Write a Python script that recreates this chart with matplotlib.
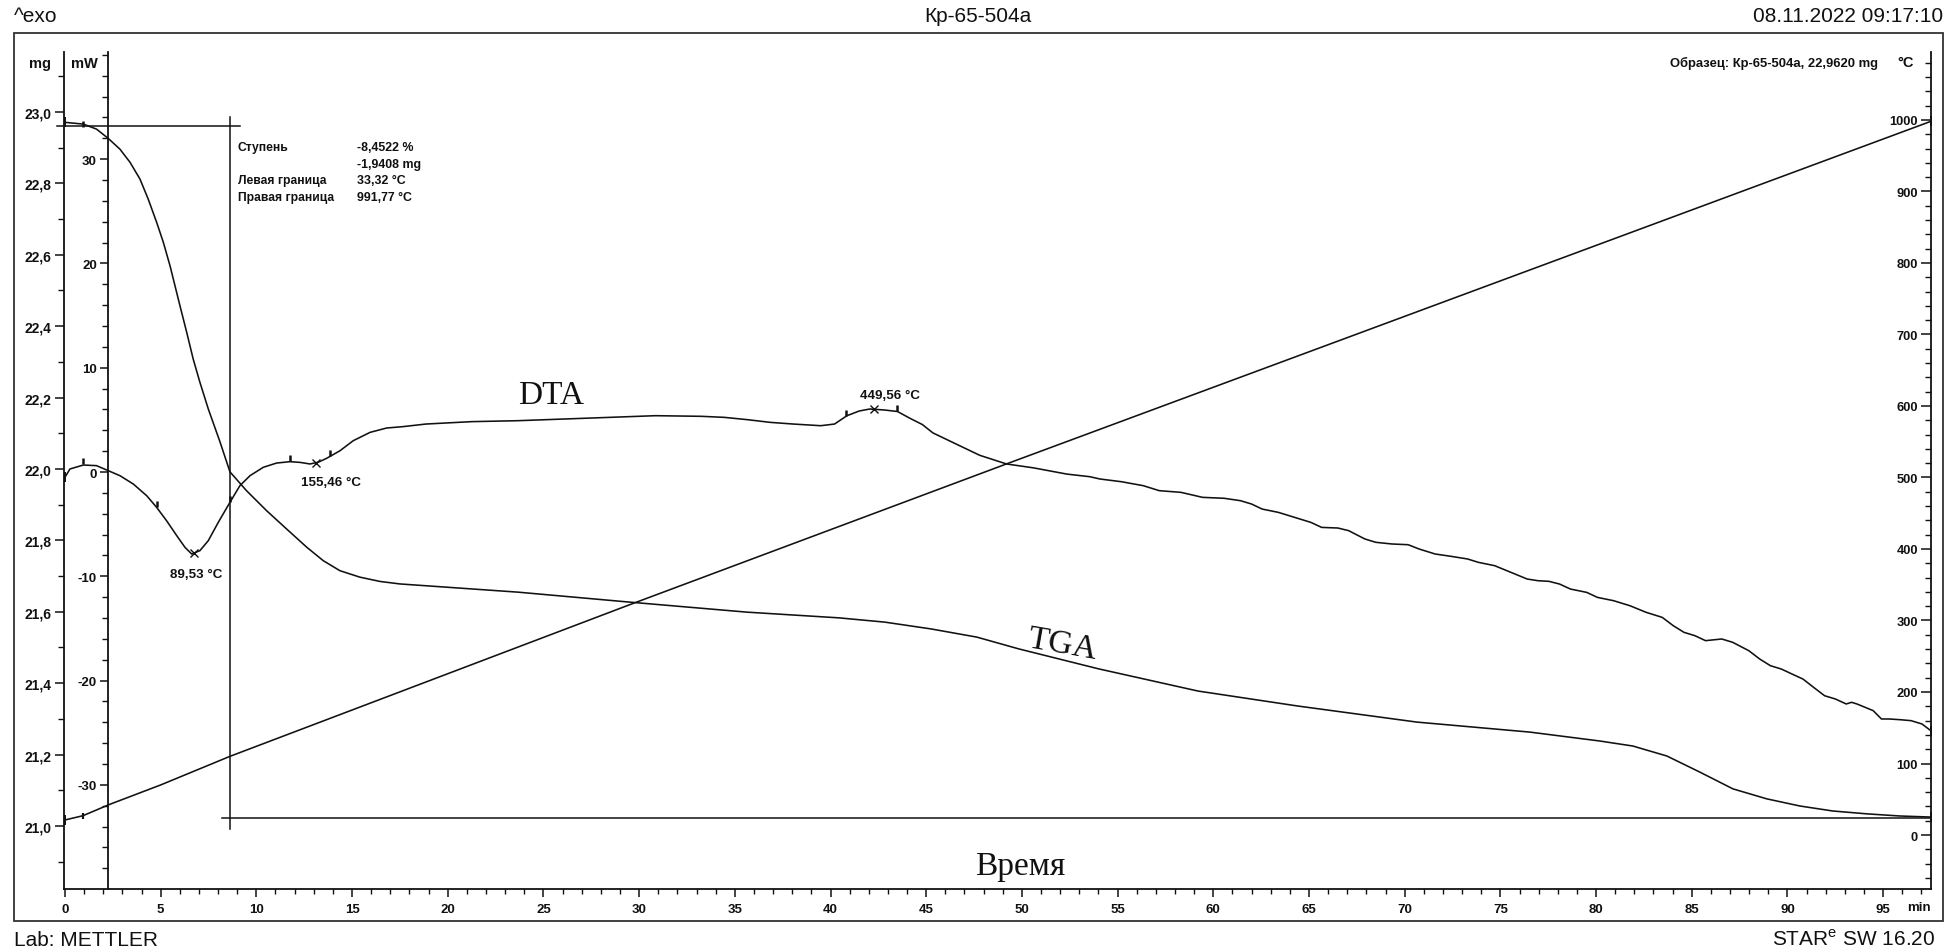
import numpy as np
import matplotlib
matplotlib.use("Agg")
import matplotlib.pyplot as plt
from matplotlib.ticker import MultipleLocator, FuncFormatter, FixedLocator
from matplotlib.patches import Rectangle

# ---- measurement data -------------------------------------------------------
# time axis (min) and DTA signal (mW)
dta_t = [0, 0.26, 0.96, 1.65, 2.26, 2.87, 3.57, 4.27, 4.79, 5.31, 5.84, 6.27,
         6.62, 7.05, 7.49, 8.01, 8.62, 9.14, 9.67, 10.36, 11.06, 11.76, 12.30,
         12.80, 13.25, 13.67, 14.37, 15.06, 15.94, 16.81, 17.66, 18.86, 21.26,
         23.66, 26.06, 28.46, 30.85, 33.25, 34.45, 35.65, 36.85, 38.05, 39.49,
         40.21, 40.86, 41.5, 42.05, 42.8, 43.5, 44.15, 44.8, 45.35, 46.6,
         47.8, 49.2, 50.6, 52.35, 53.55, 54.08, 55.20, 56.34, 57.18, 58.31,
         59.44, 60.57, 61.42, 62.0, 62.55, 63.40, 64.25, 65.10, 65.66, 66.51,
         67.07, 67.92, 68.49, 69.33, 70.18, 70.75, 71.59, 72.44, 73.29, 73.85,
         74.70, 75.55, 76.40, 76.96, 77.53, 78.09, 78.66, 79.51, 80.07, 80.92,
         81.77, 82.61, 83.46, 84.03, 84.59, 85.16, 85.72, 86.57, 87.14, 87.98,
         88.55, 89.11, 89.68, 90.24, 90.81, 91.37, 91.94, 92.50, 93.07, 93.35,
         93.63, 94.48, 94.91, 95.33, 95.90, 96.46, 97.03, 97.49]
dta_mw = [-0.51, 0.29, 0.67, 0.61, 0.13, -0.35, -1.15, -2.27, -3.39, -4.67,
          -6.10, -7.22, -7.86, -7.54, -6.58, -4.83, -2.91, -1.31, -0.35, 0.45,
          0.86, 0.99, 0.92, 0.77, 0.95, 1.31, 2.04, 3.00, 3.80, 4.22, 4.35,
          4.60, 4.83, 4.92, 5.08, 5.24, 5.40, 5.34, 5.24, 5.02, 4.76, 4.60,
          4.44, 4.60, 5.40, 5.85, 6.04, 5.95, 5.80, 5.15, 4.55, 3.75, 2.65,
          1.60, 0.77, 0.40, -0.20, -0.45, -0.67, -0.93, -1.31, -1.79, -1.95,
          -2.43, -2.52, -2.75, -3.07, -3.55, -3.87, -4.35, -4.83, -5.31, -5.37,
          -5.62, -6.42, -6.74, -6.90, -6.97, -7.38, -7.86, -8.09, -8.34, -8.66,
          -8.98, -9.62, -10.26, -10.42, -10.48, -10.74, -11.22, -11.54, -12.02,
          -12.34, -12.82, -13.45, -13.94, -14.73, -15.37, -15.69, -16.17,
          -16.01, -16.33, -17.13, -17.93, -18.57, -18.89, -19.37, -19.85,
          -20.65, -21.45, -21.76, -22.24, -22.08, -22.24, -22.88, -23.68,
          -23.68, -23.75, -23.84, -24.16, -24.80]

# TGA signal (mg)
tga_t = [0, 0.96, 1.65, 2.26, 2.87, 3.40, 3.92, 4.35, 4.79, 5.14, 5.49, 5.75,
         6.01, 6.36, 6.70, 7.05, 7.49, 8.10, 8.62, 9.49, 10.54, 11.58, 12.63,
         13.50, 14.37, 15.41, 16.46, 17.50, 23.67, 29.52, 35.63, 40.44, 42.84,
         45.25, 47.65, 49.84, 54.02, 59.20, 64.42, 70.64, 76.54, 80.20, 81.92,
         83.70, 85.42, 87.15, 88.92, 90.65, 92.37, 94.15, 95.87, 97.49]
tga_mg = [22.971, 22.966, 22.952, 22.926, 22.896, 22.859, 22.812, 22.756,
          22.691, 22.635, 22.569, 22.513, 22.457, 22.383, 22.308, 22.243,
          22.168, 22.076, 21.992, 21.939, 21.883, 21.832, 21.781, 21.743,
          21.715, 21.697, 21.685, 21.678, 21.655, 21.627, 21.599, 21.583,
          21.571, 21.552, 21.529, 21.496, 21.440, 21.378, 21.336, 21.291,
          21.263, 21.238, 21.224, 21.196, 21.151, 21.104, 21.076, 21.056,
          21.042, 21.034, 21.028, 21.025]

# sample temperature (°C)
temp_t = [0, 0.94, 2.35, 5.0, 8.62, 29.5, 49.2, 97.49]
temp_c = [21, 27, 43, 70, 110, 322, 519, 998]

# evaluated peaks (°C) and integration limit flags (min)
peak_temps = [89.53, 155.46, 449.56]
peak_labels = ["89,53 °C", "155,46 °C", "449,56 °C"]
dta_flag_t = [0.96, 4.79, 8.62, 11.76, 13.85, 40.8, 43.5]

# TGA step evaluation
step_upper_mg = 22.962
step_lower_mg = 21.0212
step_mid_t = 8.62
step_rows = [("Ступень", "-8,4522 %"), ("", "-1,9408 mg"),
             ("Левая граница", "33,32 °C"), ("Правая граница", "991,77 °C")]

# ---- layout -------------------------------------------------------------------
W, H = 1948, 953
fig = plt.figure(figsize=(W / 100, H / 100), dpi=100)
fig.patch.set_facecolor("white")

SANS = "Liberation Sans"
SERIF = "Liberation Serif"
plt.rcParams["mathtext.fontset"] = "custom"
plt.rcParams["mathtext.rm"] = SANS

def fx(x):
    return x / W

def fy(y):
    return 1 - y / H

ax_l, ax_r, ax_t, ax_b = 64, 1931, 53, 890
ax = fig.add_axes([fx(ax_l), fy(ax_b), fx(ax_r - ax_l), (ax_b - ax_t) / H])
ax.set_facecolor("none")
ax.set_xlim(-0.05, 97.5)
ax.set_ylim(20.8235, 23.168)

LC = "#111111"
for s in ["top", "right"]:
    ax.spines[s].set_visible(False)
for s in ["left", "bottom"]:
    ax.spines[s].set_linewidth(1.3)
    ax.spines[s].set_color(LC)

def bold_labels(labels):
    for lab in labels:
        lab.set_fontfamily(SANS)
        lab.set_fontweight("bold")

# time axis
ax.set_xticks(np.arange(0, 96, 5))
ax.xaxis.set_minor_locator(FixedLocator(np.arange(0, 98, 1)))
ax.tick_params(axis="x", which="major", direction="out", length=6, width=1.1,
               pad=4, labelsize=9.5, colors=LC)
ax.tick_params(axis="x", which="minor", direction="out", length=3.5, width=1.0,
               colors=LC)
bold_labels(ax.get_xticklabels())

# mass axis
ax.yaxis.set_major_locator(FixedLocator(np.round(np.arange(21.0, 23.01, 0.2), 1)))
ax.yaxis.set_minor_locator(FixedLocator(np.round(np.arange(20.9, 23.11, 0.1), 1)))
ax.yaxis.set_major_formatter(FuncFormatter(lambda v, p: f"{v:.1f}".replace(".", ",")))
ax.tick_params(axis="y", which="major", direction="out", length=6.5, width=1.1,
               pad=2.5, labelsize=10, colors=LC)
ax.tick_params(axis="y", which="minor", direction="out", length=4.5, width=1.0,
               colors=LC)
bold_labels(ax.get_yticklabels())

# heat-flow axis (inside the plot, near the left edge)
ax2 = ax.twinx()
ax2.set_ylim(-39.98, 40.27)
for s in ["top", "right", "bottom"]:
    ax2.spines[s].set_visible(False)
ax2.spines["left"].set_visible(True)
ax2.spines["left"].set_position(("axes", (108 - ax_l) / (ax_r - ax_l)))
ax2.spines["left"].set_linewidth(1.3)
ax2.spines["left"].set_color(LC)
ax2.yaxis.set_ticks_position("left")
ax2.yaxis.set_label_position("left")
ax2.yaxis.set_major_locator(FixedLocator(np.arange(-40, 31, 10)))
ax2.yaxis.set_minor_locator(FixedLocator(np.arange(-40, 41, 2)))
ax2.yaxis.set_major_formatter(FuncFormatter(lambda v, p: f"{v:.0f}"))
ax2.tick_params(axis="y", which="major", direction="out", length=6, width=1.1,
                pad=2, labelsize=9.5, colors=LC)
ax2.tick_params(axis="y", which="minor", direction="out", length=4, width=1.0,
                colors=LC)
bold_labels(ax2.get_yticklabels())

# temperature axis (right edge, labels inside)
ax3 = ax.twinx()
ax3.set_ylim(-75.5, 1095)
for s in ["top", "right", "bottom"]:
    ax3.spines[s].set_visible(False)
ax3.spines["left"].set_visible(True)
ax3.spines["left"].set_position(("axes", 1.0))
ax3.spines["left"].set_linewidth(1.3)
ax3.spines["left"].set_color(LC)
ax3.yaxis.set_ticks_position("left")
ax3.yaxis.set_major_locator(FixedLocator(np.arange(0, 1001, 100)))
ax3.yaxis.set_minor_locator(FixedLocator(np.arange(-60, 1081, 20)))
ax3.yaxis.set_major_formatter(FuncFormatter(lambda v, p: f"{v:.0f}"))
ax3.tick_params(axis="y", which="major", direction="out", length=7, width=1.1,
                pad=2.5, labelsize=9.3, colors=LC)
ax3.tick_params(axis="y", which="minor", direction="out", length=4, width=1.0,
                colors=LC)
bold_labels(ax3.get_yticklabels())

# ---- curves -------------------------------------------------------------------
lw = 1.15
ax.plot(tga_t, tga_mg, color=LC, lw=lw, zorder=3)
ax2.plot(dta_t, dta_mw, color=LC, lw=lw, zorder=3)
ax3.plot(temp_t, temp_c, color=LC, lw=lw, zorder=3)

# TGA step construction lines
ax.plot([-0.42, 9.14], [step_upper_mg, step_upper_mg], color=LC, lw=1.1,
        clip_on=False)
ax.plot([8.2, 97.5], [step_lower_mg, step_lower_mg], color=LC, lw=1.1,
        clip_on=False)
ax.plot([step_mid_t, step_mid_t], [20.992, 22.986], color=LC, lw=1.1)

# integration flags on the DTA curve
flag_y = np.interp(dta_flag_t, dta_t, dta_mw)
ax2.plot(dta_flag_t, flag_y + 0.35, ls="none", marker="|", ms=5, mew=1.8,
         color=LC, zorder=4)
# peak markers at the labelled temperatures
peak_t = np.interp(peak_temps, temp_c, temp_t)
peak_y = np.interp(peak_t, dta_t, dta_mw)
ax2.plot(peak_t, peak_y, ls="none", marker="x", ms=6, mew=1.0, color=LC,
         zorder=4)
offsets = [(1, -15), (11, -14), (12, 10)]
for tt, yy, lab, off in zip(peak_t, peak_y, peak_labels, offsets):
    ax2.annotate(lab, (tt, yy), xytext=off, textcoords="offset points",
                 ha="center", va="center", fontsize=9.6, fontfamily=SANS,
                 fontweight="bold", color=LC)

# start / end marks of the curves
ax.plot([0.96], [np.interp(0.96, tga_t, tga_mg)], marker="|", ms=5, mew=1.8,
        color=LC)
ax3.plot([0.94], [np.interp(0.94, temp_t, temp_c)], marker="|", ms=5, mew=1.6,
         color=LC)
for a, yv in [(ax, tga_mg[0]), (ax2, dta_mw[0]), (ax3, temp_c[0])]:
    a.plot([0], [yv], marker="|", ms=7, mew=1.4, color=LC, clip_on=False)
for a, yv in [(ax, tga_mg[-1]), (ax2, dta_mw[-1]), (ax3, temp_c[-1])]:
    a.plot([97.5], [yv], marker="|", ms=7, mew=1.4, color=LC, clip_on=False)

# ---- text -----------------------------------------------------------------------
txt = dict(family=SANS, color=LC)
fig.text(fx(14), fy(17), "^exo", fontsize=15, va="center", ha="left", **txt)
fig.text(fx(978), fy(17), "Кр-65-504а", fontsize=15, va="center",
         ha="center", **txt)
fig.text(fx(1943), fy(17), "08.11.2022 09:17:10", fontsize=15, va="center",
         ha="right", **txt)
fig.text(fx(14), fy(941), "Lab: METTLER", fontsize=15, va="center",
         ha="left", **txt)
fig.text(fx(1935), fy(939), r"STAR$^{\mathrm{e}}$ SW 16.20", fontsize=15,
         va="center", ha="right", **txt)

bold = dict(family=SANS, weight="bold", color=LC)
fig.text(fx(40), fy(64), "mg", fontsize=10.5, ha="center", va="center", **bold)
fig.text(fx(84), fy(64), "mW", fontsize=10.5, ha="center", va="center", **bold)
fig.text(fx(1906), fy(63), "°C", fontsize=10.5, ha="center", va="center",
         **bold)
fig.text(fx(1919), fy(908), "min", fontsize=9.5, ha="center", va="center",
         **bold)
fig.text(fx(1878), fy(63), "Образец: Кр-65-504а, 22,9620 mg", fontsize=9.4,
         ha="right", va="center", **bold)

row_y = [148, 165, 181, 198]
for (k, v), yy in zip(step_rows, row_y):
    if k:
        fig.text(fx(238), fy(yy), k, fontsize=8.7, ha="left", va="center",
                 **bold)
    fig.text(fx(357), fy(yy), v, fontsize=8.9, ha="left", va="center", **bold)

serif = dict(family=SERIF, color=LC)
fig.text(fx(551), fy(396), "DTA", fontsize=24, ha="center", va="center",
         **serif)
fig.text(fx(1062), fy(645), "TGA", fontsize=24.5, ha="center", va="center",
         rotation=-10, **serif)
fig.text(fx(1020), fy(867), "Время", fontsize=24, ha="center", va="center",
         **serif)

# outer frame
fig.patches.append(Rectangle((fx(14), fy(922)), fx(1943 - 14), (922 - 34) / H,
                             transform=fig.transFigure, fill=False,
                             edgecolor="#333333", lw=1.3))

fig.savefig("out.png", dpi=100, facecolor="white")
